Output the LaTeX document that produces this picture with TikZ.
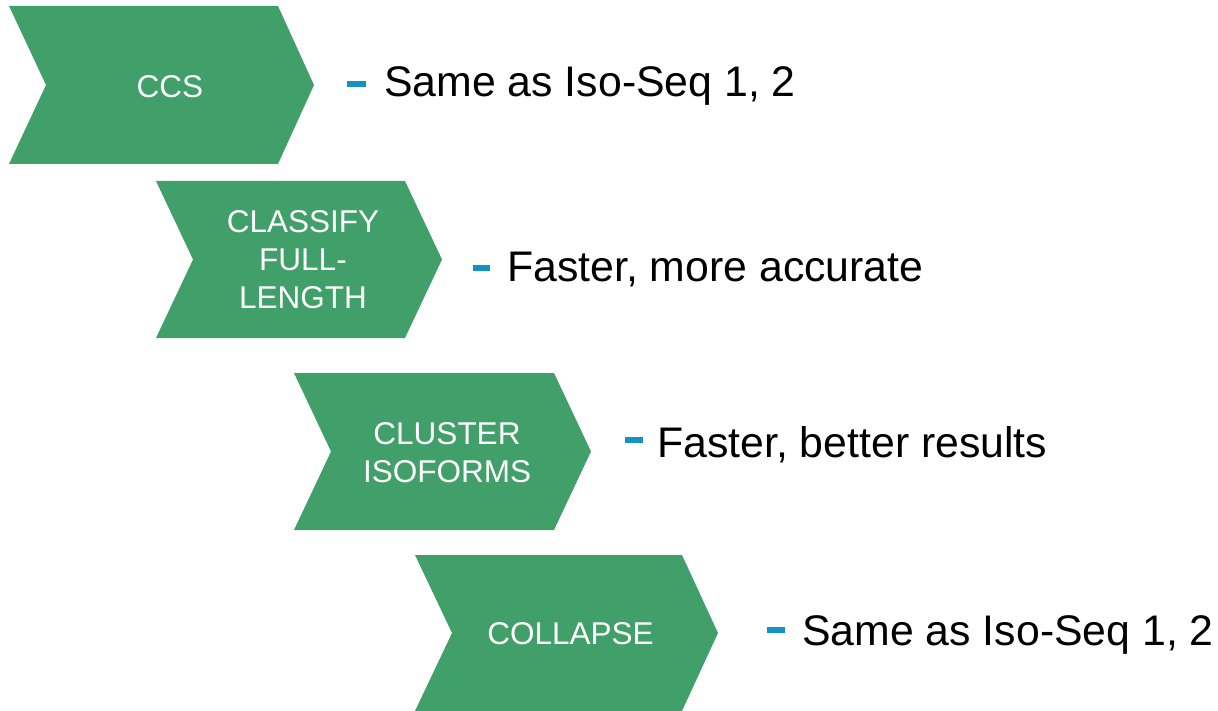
\documentclass[tikz,border=0pt]{standalone}
\usepackage{fontspec}
\setmainfont{Liberation Sans}
\definecolor{chevgreen}{HTML}{41A06A}
\definecolor{bulletblue}{HTML}{1591C4}
\begin{document}
\begin{tikzpicture}[x=1pt,y=-1pt,
  chev/.style={fill=chevgreen},
  chevtext/.style={text=white,align=center,inner sep=0pt,font=\fontsize{31.5}{38}\selectfont},
  bullet/.style={bulletblue,line width=5.5pt},
  desc/.style={anchor=base west,inner sep=0pt,font=\fontsize{42.8}{50}\selectfont}]
\useasboundingbox (0,0) rectangle (1218,711);
% chevrons
\fill[chev] (9,6) -- (278,6) -- (314,85) -- (278,164) -- (9,164) -- (46,85) -- cycle;
\fill[chev] (156,181) -- (405,181) -- (442,259.5) -- (405,338) -- (156,338) -- (193,259.5) -- cycle;
\fill[chev] (294,373) -- (554,373) -- (591,451.5) -- (554,530) -- (294,530) -- (331,451.5) -- cycle;
\fill[chev] (415,555) -- (682,555) -- (718,633) -- (682,711) -- (415,711) -- (452,633) -- cycle;
% chevron labels
\node[chevtext] (ccs) at (170,87) {CCS};
\node[chevtext] (classify) at (303,260) {CLASSIFY\\FULL-\\LENGTH};
\node[chevtext] (cluster) at (447,452.5) {CLUSTER\\ISOFORMS};
\node[chevtext] (collapse) at (570.5,634) {COLLAPSE};
% bullets
\draw[bullet] (347,84) -- (366,84);
\draw[bullet] (473,268) -- (490,268);
\draw[bullet] (625,440) -- (643,440);
\draw[bullet] (767,630) -- (785,630);
% descriptions
\node[desc] (d1) at (384,97) {Same as Iso-Seq 1, 2};
\node[desc] (d2) at (507,282) {Faster, more accurate};
\node[desc] (d3) at (657,457) {Faster, better results};
\node[desc] (d4) at (802,645) {Same as Iso-Seq 1, 2};
\end{tikzpicture}
\end{document}
